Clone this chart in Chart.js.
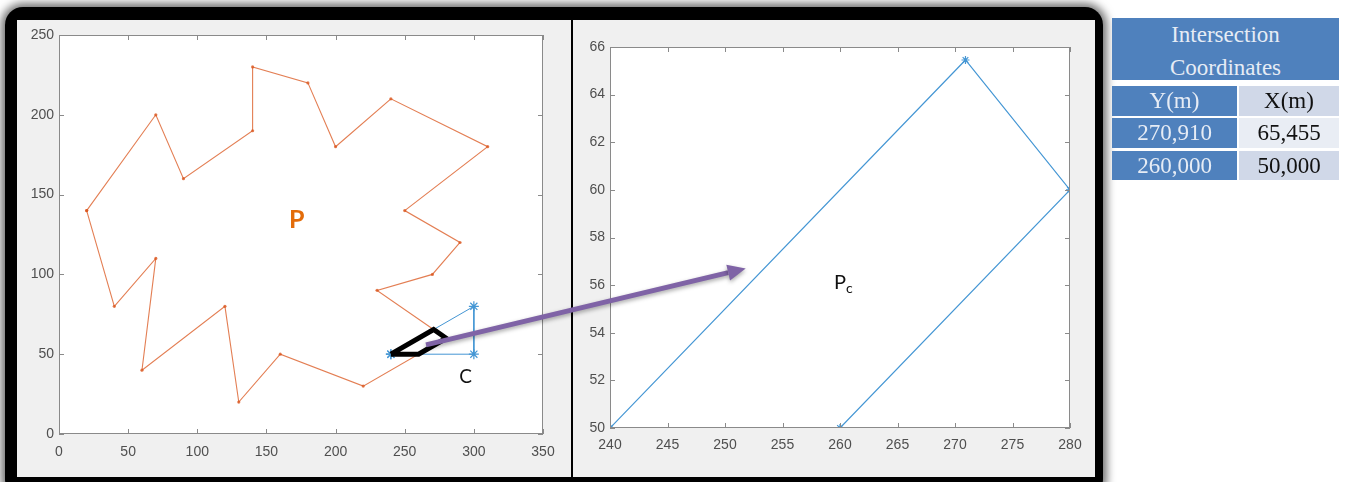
<!DOCTYPE html>
<html>
<head>
<meta charset="utf-8">
<script src="https://cdn.jsdelivr.net/npm/chart.js@4.4.1/dist/chart.umd.min.js"></script>
<style>
  html, body { margin: 0; padding: 0; background: #fff; }
  body { width: 1354px; height: 482px; position: relative; overflow: hidden; }
  #frame { position: absolute; left: 5px; top: 7px; width: 1098px; height: 490px; background: #000;
           border-radius: 18px; box-shadow: 0 0 8px 4px rgba(0,0,0,0.55); }
  .panel { position: absolute; top: 20px; height: 457px; background: #f0f0f0; }
  #leftPanel { left: 17px; width: 554px; }
  #rightPanel { left: 573px; width: 522px; }
  canvas.plot { position: absolute; top: 20px; }
  #ov { position: absolute; left: 0; top: 0; pointer-events: none; }
  .cell { position: absolute; font-family: "Liberation Serif", "Times New Roman", serif; font-size: 23px;
          text-align: center; box-sizing: border-box; }
  .blue { background: #4f81bd; color: #e6ecf5; }
  .light1 { background: #d0d8e8; color: #111; }
  .light2 { background: #e9edf4; color: #111; }
</style>
</head>
<body>
<div id="frame"></div>
<div class="panel" id="leftPanel"></div>
<div class="panel" id="rightPanel"></div>
<canvas class="plot" id="chartP" width="554" height="457" style="left:17px"></canvas>
<canvas class="plot" id="chartPc" width="522" height="457" style="left:573px"></canvas>
<canvas id="ov" width="1354" height="482"></canvas>
<div id="table"></div>

<script>
// polygon P (orange)
const pX = [20, 70, 90, 140, 140, 180, 200, 240, 310, 250, 290, 270, 230, 280, 220, 160, 130, 120, 60, 70, 40];
const pY = [140, 200, 160, 190, 230, 220, 180, 210, 180, 140, 120, 100, 90, 60, 30, 50, 20, 80, 40, 110, 80];
// clipping triangle C (blue)
const cX = [240, 300, 300];
const cY = [50, 80, 50];
// intersection polygon Pc
const pcX = [240, 270.91, 280, 260];
const pcY = [50, 65.455, 60, 50];

// axis ranges / tick steps
const leftXTicks = [0, 350, 50];
const leftYTicks = [0, 250, 50];
const rightXTicks = [240, 280, 5];
const rightYTicks = [50, 66, 2];

// table text
const tableTitle = ['Intersection', 'Coordinates'];
const tableHead = ['Y(m)', 'X(m)'];
const tableY = ['270,910', '260,000'];
const tableX = ['65,455', '50,000'];

const ORANGE = 'rgba(217,83,25,0.75)';
const BLUE = '#4496d4';
const AXIS = '#8a8a8a';
const TICKTXT = '#4f4f4f';

function closed(xs, ys) {
    const pts = xs.map((x, i) => ({ x: x, y: ys[i] }));
    pts.push({ x: xs[0], y: ys[0] });
    return pts;
}

// white axes area + matlab style box with inward ticks
const matlabBox = {
    id: 'matlabBox',
    beforeDraw(chart) {
        const a = chart.chartArea, ctx = chart.ctx;
        ctx.save();
        ctx.fillStyle = '#fff';
        ctx.fillRect(a.left, a.top, a.right - a.left, a.bottom - a.top);
        ctx.restore();
    },
    afterDraw(chart) {
        const a = chart.chartArea, ctx = chart.ctx;
        const sx = chart.scales.x, sy = chart.scales.y;
        const len = 5;
        ctx.save();
        ctx.strokeStyle = AXIS;
        ctx.lineWidth = 1;
        ctx.strokeRect(a.left + 0.5, a.top + 0.5, a.right - a.left - 1, a.bottom - a.top - 1);
        ctx.beginPath();
        sx.ticks.forEach(t => {
            const px = Math.round(sx.getPixelForValue(t.value)) + 0.5;
            ctx.moveTo(px, a.bottom); ctx.lineTo(px, a.bottom - len);
            ctx.moveTo(px, a.top); ctx.lineTo(px, a.top + len);
        });
        sy.ticks.forEach(t => {
            const py = Math.round(sy.getPixelForValue(t.value)) + 0.5;
            ctx.moveTo(a.left, py); ctx.lineTo(a.left + len, py);
            ctx.moveTo(a.right, py); ctx.lineTo(a.right - len, py);
        });
        ctx.stroke();

        // text labels placed in data coordinates
        (chart.options.plugins.matlabBox.labels || []).forEach(l => {
            const px = sx.getPixelForValue(l.x), py = sy.getPixelForValue(l.y);
            ctx.fillStyle = l.color;
            ctx.font = l.font;
            ctx.textAlign = 'center';
            ctx.textBaseline = 'middle';
            ctx.fillText(l.text, px, py);
            if (l.sub) {
                const w = ctx.measureText(l.text).width;
                ctx.font = l.subFont;
                ctx.textAlign = 'left';
                ctx.fillText(l.sub, px + w / 2, py + 6);
            }
        });
        ctx.restore();
    }
};

function axis(range, fixed, isX, pad) {
    return {
        type: 'linear',
        min: range[0],
        max: range[1],
        ticks: {
            stepSize: range[2],
            color: TICKTXT,
            font: { family: 'Liberation Sans, Arial, sans-serif', size: 14 },
            padding: pad,
            maxRotation: 0,
            autoSkip: false
        },
        grid: { display: false, drawTicks: false },
        border: { display: false },
        afterFit(s) { if (isX) s.height = fixed; else s.width = fixed; }
    };
}

function baseOptions(xr, yr, yW, xH, pad, labels, xPad) {
    return {
        responsive: false,
        animation: false,
        layout: { padding: pad },
        plugins: {
            legend: { display: false },
            tooltip: { enabled: false },
            matlabBox: { labels: labels }
        },
        scales: {
            x: axis(xr, xH, true, xPad),
            y: axis(yr, yW, false, 5)
        }
    };
}

const chartP = new Chart(document.getElementById('chartP'), {
    type: 'scatter',
    data: {
        datasets: [
            {   // highlighted intersection (thick black)
                data: closed(pcX, pcY),
                showLine: true,
                borderColor: '#000',
                borderWidth: 5,
                pointRadius: 0,
                borderJoinStyle: 'miter'
            },
            {
                data: closed(cX, cY),
                showLine: true,
                borderColor: BLUE,
                borderWidth: 1,
                pointStyle: 'star',
                pointRadius: 5,
                pointBorderColor: BLUE,
                pointBorderWidth: 1.2
            },
            {
                data: closed(pX, pY),
                showLine: true,
                borderColor: ORANGE,
                borderWidth: 1.1,
                pointStyle: 'circle',
                pointRadius: 1.6,
                pointBackgroundColor: ORANGE,
                pointBorderWidth: 0
            }
        ]
    },
    options: baseOptions(leftXTicks, leftYTicks, 42, 43,
        { top: 15, right: 28, left: 0, bottom: 0 },
        [
            { text: 'P', x: 172, y: 134, color: '#e36c0a', font: 'bold 25px Lato, "Open Sans", sans-serif' },
            { text: 'C', x: 294, y: 36, color: '#111', font: '19px Lato, "Open Sans", sans-serif' }
        ], 10),
    plugins: [matlabBox]
});

const chartPc = new Chart(document.getElementById('chartPc'), {
    type: 'scatter',
    data: {
        datasets: [
            {
                data: closed(pcX, pcY),
                showLine: true,
                borderColor: BLUE,
                borderWidth: 1.2,
                pointStyle: 'star',
                pointRadius: 4,
                pointBorderColor: BLUE,
                pointBorderWidth: 1.2
            }
        ]
    },
    options: baseOptions(rightXTicks, rightYTicks, 37, 49,
        { top: 27, right: 25, left: 0, bottom: 0 },
        [
            { text: 'P', x: 260, y: 56.1, color: '#111', font: '20px Lato, "Open Sans", sans-serif',
              sub: 'c', subFont: '14px Lato, "Open Sans", sans-serif' }
        ], 9),
    plugins: [matlabBox]
});

// purple arrow from the black highlight to the zoomed plot
function drawArrow() {
    const ctx = document.getElementById('ov').getContext('2d');
    const x0 = 17 + chartP.scales.x.getPixelForValue(265.4);
    const y0 = 20 + chartP.scales.y.getPixelForValue(55.8);
    const x1 = 573 + chartPc.scales.x.getPixelForValue(251.8);
    const y1 = 20 + chartPc.scales.y.getPixelForValue(56.7);
    const ang = Math.atan2(y1 - y0, x1 - x0);
    const head = 18, half = 8;
    const bx = x1 - head * Math.cos(ang), by = y1 - head * Math.sin(ang);
    ctx.save();
    ctx.shadowColor = 'rgba(0,0,0,0.35)';
    ctx.shadowBlur = 4;
    ctx.shadowOffsetY = 2;
    ctx.strokeStyle = '#7f63a6';
    ctx.fillStyle = '#7f63a6';
    ctx.lineWidth = 5;
    ctx.beginPath();
    ctx.moveTo(x0, y0);
    ctx.lineTo(bx, by);
    ctx.stroke();
    ctx.beginPath();
    ctx.moveTo(x1, y1);
    ctx.lineTo(bx + half * Math.sin(ang), by - half * Math.cos(ang));
    ctx.lineTo(bx - half * Math.sin(ang), by + half * Math.cos(ang));
    ctx.closePath();
    ctx.fill();
    ctx.restore();
}
drawArrow();

// coordinates table
function buildTable() {
    const t = document.getElementById('table');
    const L = 1112, M = 1237, R = 1339;
    const rows = [
        [86, 116, tableHead[0], tableHead[1], 'light1'],
        [118, 148, tableY[0], tableX[0], 'light2'],
        [151, 180, tableY[1], tableX[1], 'light1']
    ];
    let h = '<div class="cell blue" style="left:' + L + 'px;top:18px;width:' + (R - L) + 'px;height:62px;line-height:33px;padding-top:0">'
        + tableTitle[0] + '<br>' + tableTitle[1] + '</div>';
    rows.forEach(r => {
        const hh = r[1] - r[0];
        h += '<div class="cell blue" style="left:' + L + 'px;top:' + r[0] + 'px;width:' + (M - L) + 'px;height:' + hh + 'px;line-height:' + hh + 'px">' + r[2] + '</div>';
        h += '<div class="cell ' + r[4] + '" style="left:' + (M + 2) + 'px;top:' + r[0] + 'px;width:' + (R - M - 2) + 'px;height:' + hh + 'px;line-height:' + hh + 'px">' + r[3] + '</div>';
    });
    t.innerHTML = h;
}
buildTable();
</script>
</body>
</html>
